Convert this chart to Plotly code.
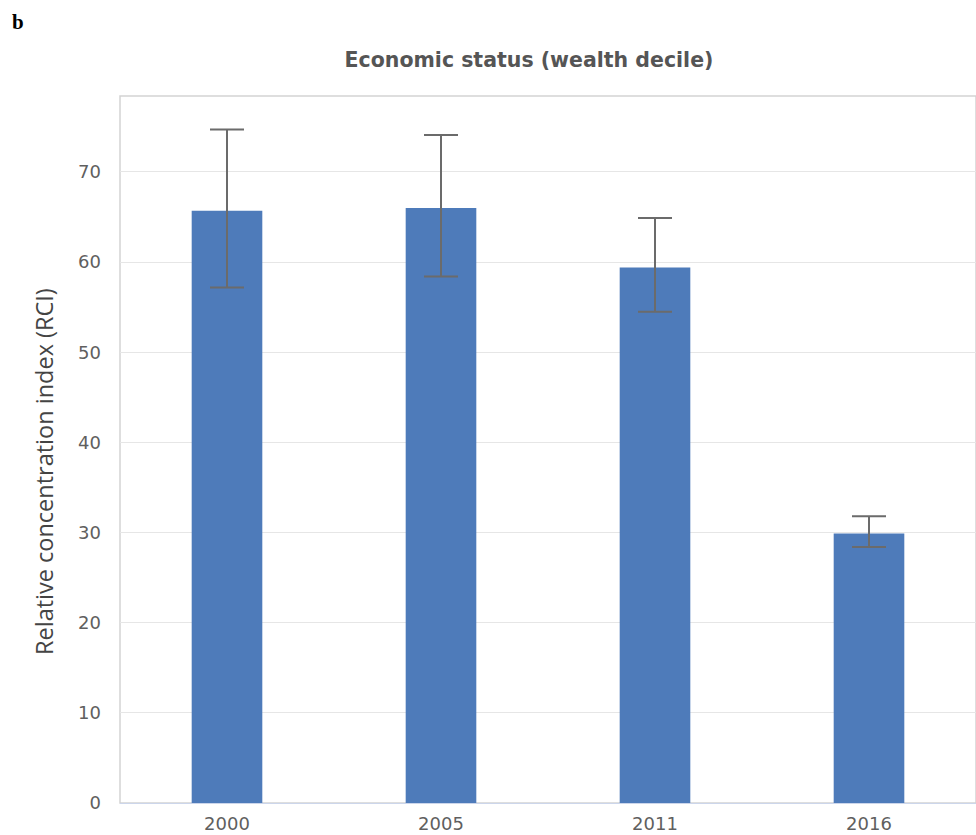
import plotly.graph_objects as go

# Survey years and relative concentration index by wealth decile
years = ["2000", "2005", "2011", "2016"]
rci = [65.7, 66.0, 59.4, 29.9]
ci_upper = [74.7, 74.1, 64.9, 31.8]
ci_lower = [57.2, 58.4, 54.5, 28.4]

err_plus = [u - v for u, v in zip(ci_upper, rci)]
err_minus = [v - l for v, l in zip(rci, ci_lower)]

fig = go.Figure()
fig.add_trace(go.Bar(
    x=years,
    y=rci,
    width=0.33,
    marker=dict(color="#4e7bba", line=dict(width=0)),
    error_y=dict(
        type="data",
        symmetric=False,
        array=err_plus,
        arrayminus=err_minus,
        color="#6b6b6b",
        thickness=2,
        width=17,
    ),
    showlegend=False,
))

PLOT_W, PLOT_H = 856, 707

fig.update_layout(
    width=976,
    height=835,
    margin=dict(l=120, r=0, t=96, b=32),
    paper_bgcolor="white",
    plot_bgcolor="white",
    title=dict(
        text="<b>Economic status (wealth decile)</b>",
        x=529 / 976,
        xanchor="center",
        y=1 - 60 / 835,
        yanchor="middle",
        font=dict(family="DejaVu Sans", size=20.5, color="#555555"),
    ),
    xaxis=dict(
        type="category",
        range=[-0.5, 3.5],
        showline=True,
        linecolor="#ccd6eb",
        linewidth=1,
        showgrid=False,
        ticks="",
        tickfont=dict(family="DejaVu Sans", size=18, color="#5f5f5f"),
        ticklabelstandoff=4,
    ),
    yaxis=dict(
        range=[0, 78.43],
        tickvals=[0, 10, 20, 30, 40, 50, 60, 70],
        showgrid=True,
        gridcolor="#e6e6e6",
        gridwidth=1,
        zeroline=False,
        showline=False,
        ticks="",
        tickfont=dict(family="DejaVu Sans", size=18, color="#5f5f5f"),
        ticklabelstandoff=18,
    ),
    shapes=[
        dict(
            type="rect", xref="paper", yref="paper",
            x0=0, x1=1, y0=0, y1=1,
            line=dict(color="#d3d3d3", width=1.5),
            layer="below",
        )
    ],
    annotations=[
        dict(
            text="<b>b</b>",
            xref="paper", yref="paper",
            x=-110 / PLOT_W, y=1 + (96 - 22) / PLOT_H,
            xanchor="left", yanchor="middle",
            showarrow=False,
            font=dict(family="Liberation Serif", size=21, color="#000000"),
        ),
        dict(
            text="Relative concentration index (RCI)",
            xref="paper", yref="paper",
            x=-(120 - 44) / PLOT_W, y=(803 - 472) / PLOT_H,
            xanchor="center", yanchor="middle",
            textangle=-90,
            showarrow=False,
            font=dict(family="Open Sans", size=23.5, color="#444444"),
        ),
    ],
)

fig.write_html("out.html")
